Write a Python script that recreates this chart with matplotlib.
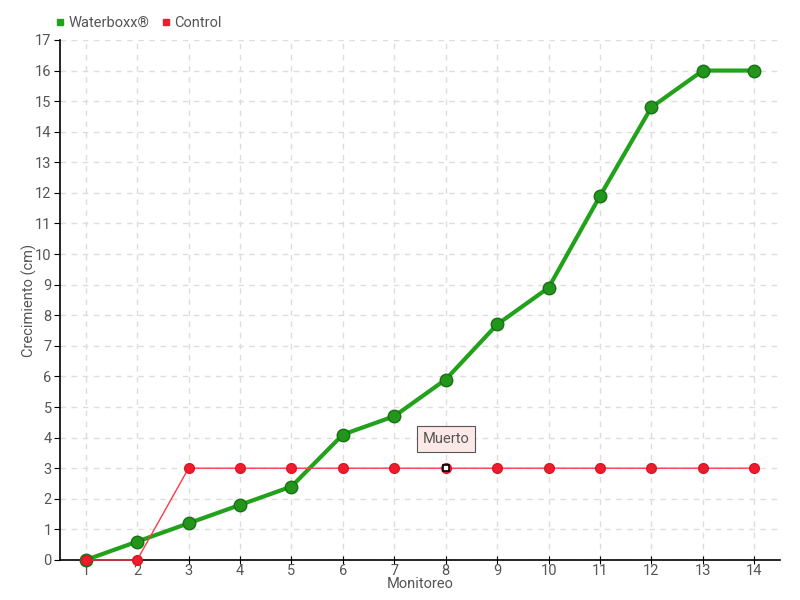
import matplotlib
matplotlib.use("Agg")
import matplotlib.pyplot as plt
from matplotlib.lines import Line2D

monitoreo = list(range(1, 15))
waterboxx = [0, 0.6, 1.2, 1.8, 2.4, 4.1, 4.7, 5.9, 7.7, 8.9, 11.9, 14.8, 16, 16]
control = [0, 0, 3, 3, 3, 3, 3, 3, 3, 3, 3, 3, 3, 3]
muerto_idx = 7

plt.rcParams["font.family"] = ["Roboto", "DejaVu Sans"]
text_col = "#555555"

fig = plt.figure(figsize=(8, 6), dpi=100)
ax = fig.add_axes([0.075, 0.0667, 0.9, 0.8667])

ax.plot(monitoreo, waterboxx, color="#22a11a", lw=3, marker="o", ms=9,
        mfc="#22961b", mec="#1a7015", mew=1.0, zorder=3, clip_on=False,
        label="Waterboxx®")
ax.plot(monitoreo, control, color="#ff3848", lw=1, marker="o", ms=7,
        mfc="#ee1c2c", mec="#dd1525", zorder=4, clip_on=False, label="Control")

# punto resaltado (muerto)
ax.plot(monitoreo[muerto_idx], control[muerto_idx], marker="s", ms=5,
        mfc="white", mec="black", mew=1.2, zorder=5)
ax.annotate("Muerto", xy=(monitoreo[muerto_idx], control[muerto_idx]),
            xytext=(0, 21), textcoords="offset points", ha="center", va="center",
            fontsize=10.5, color=text_col,
            bbox=dict(boxstyle="square,pad=0.4", fc="#fde8e8", ec="#555555", lw=0.8),
            zorder=6)

ax.set_xlim(0.5, 14.5)
ax.set_ylim(0, 17)
ax.set_xticks(monitoreo)
ax.set_yticks(range(0, 18))
ax.tick_params(axis="x", direction="inout", length=6, colors="black",
               labelcolor=text_col, labelsize=10.5, pad=0)
ax.tick_params(axis="y", direction="out", length=4, colors="black",
               labelcolor=text_col, labelsize=10.5, pad=2)
ax.grid(True, color="#dddddd", ls=(0, (4, 4)), lw=1)
ax.set_axisbelow(True)
for s in ["top", "right"]:
    ax.spines[s].set_visible(False)
ax.spines["left"].set_linewidth(1.2)
ax.spines["bottom"].set_linewidth(1.2)

ax.set_xlabel("Monitoreo", color=text_col, fontsize=10.5, labelpad=-1)
ax.set_ylabel("Crecimiento (cm)", color=text_col, fontsize=10.5, labelpad=-1)

handles = [Line2D([], [], ls="", marker="s", ms=5, color="#22a11a"),
           Line2D([], [], ls="", marker="s", ms=5, color="#ee1c2c")]
fig.legend(handles, ["Waterboxx®", "Control"], loc="upper left",
           bbox_to_anchor=(0.053, 0.995), ncol=2, frameon=False,
           handlelength=0.6, handletextpad=0.3, columnspacing=0.8,
           labelcolor=text_col, fontsize=10.5)

fig.savefig("out.png", dpi=100)
